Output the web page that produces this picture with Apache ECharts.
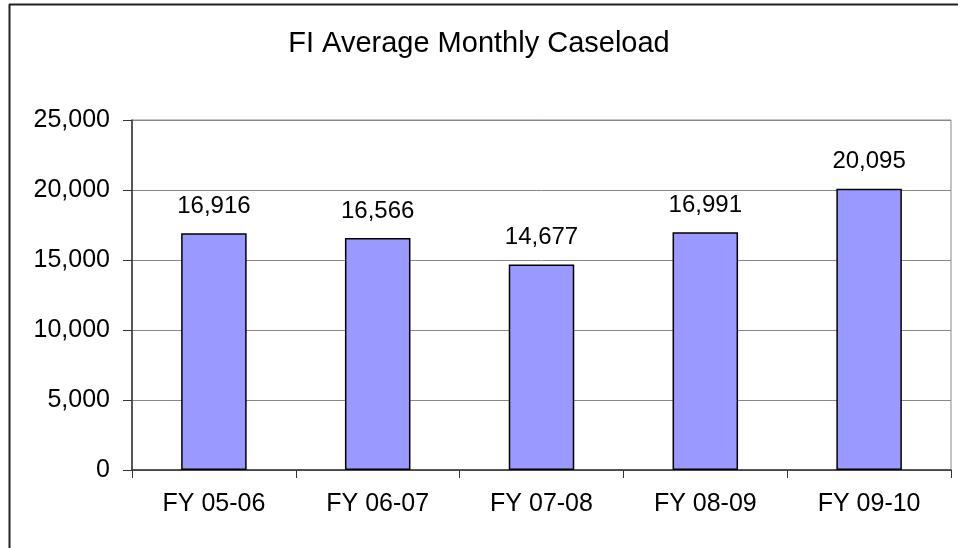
<!DOCTYPE html>
<html>
<head>
<meta charset="utf-8">
<script src="https://cdn.jsdelivr.net/npm/echarts@6/dist/echarts.min.js"></script>
<style>
  html, body { margin: 0; padding: 0; background: #fff; }
</style>
</head>
<body>
<div id="main" style="width: 958px; height: 548px;"></div>
<script>
const categories = ['FY 05-06', 'FY 06-07', 'FY 07-08', 'FY 08-09', 'FY 09-10']
const caseload = [16916, 16566, 14677, 16991, 20095]
const yTicks = [0, 5000, 10000, 15000, 20000, 25000]

const fmt = v => Number(v).toLocaleString('en-US')

const chart = echarts.init(document.getElementById('main'))

const option = {
  backgroundColor: '#fff',
  animation: false,
  title: {
    text: 'FI Average Monthly Caseload',
    left: 'center',
    top: 24,
    textStyle: { fontFamily: 'Liberation Sans', fontSize: 29, fontWeight: 'normal', color: '#000' }
  },
  // outer frame, only left and top edges are visible
  graphic: [
    { type: 'line', shape: { x1: 9.5, y1: 4, x2: 9.5, y2: 548 }, style: { stroke: '#222', lineWidth: 2 } },
    { type: 'line', shape: { x1: 9, y1: 4.5, x2: 958, y2: 4.5 }, style: { stroke: '#222', lineWidth: 2 } }
  ],
  grid: {
    left: 132, right: 7, top: 120, bottom: 78,
    show: true, borderColor: '#888', borderWidth: 1
  },
  xAxis: {
    type: 'category',
    data: categories,
    axisLine: { lineStyle: { color: '#333', width: 1.5 } },
    axisTick: { show: true, length: 8, lineStyle: { color: '#333' } },
    axisLabel: { margin: 22, fontFamily: 'Liberation Sans', fontSize: 25, color: '#000' }
  },
  yAxis: {
    type: 'value',
    min: yTicks[0],
    max: yTicks[yTicks.length - 1],
    interval: yTicks[1] - yTicks[0],
    axisLine: { show: true, lineStyle: { color: '#333', width: 1.5 } },
    axisTick: { show: true, length: 9, lineStyle: { color: '#333' } },
    splitLine: { lineStyle: { color: '#888', width: 1 } },
    axisLabel: { margin: 22, fontFamily: 'Liberation Sans', fontSize: 25, color: '#000', formatter: fmt }
  },
  series: [{
    type: 'bar',
    data: caseload,
    barWidth: '40%',
    itemStyle: { color: '#9999FF', borderColor: '#000', borderWidth: 1.5 },
    label: {
      show: true,
      position: 'top',
      distance: 15,
      fontFamily: 'Liberation Sans',
      fontSize: 24,
      color: '#000',
      formatter: p => fmt(p.value)
    }
  }]
}

chart.setOption(option)
</script>
</body>
</html>
